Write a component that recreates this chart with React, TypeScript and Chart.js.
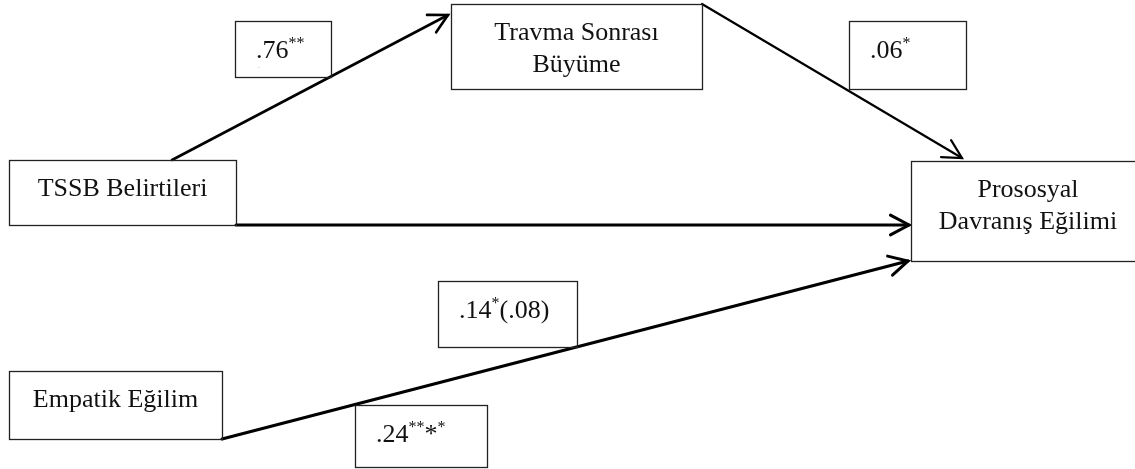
import React, { useEffect, useRef } from "react";
import { Chart, registerables } from "chart.js";

Chart.register(...registerables);

// ---------- Diagram data (in diagram units; 1 unit = 1 px of the 1135 x 469 frame) ----------
// Variables of the mediation model
const nodeLabels = ["TSSB Belirtileri", "Travma Sonrası|Büyüme", "Prososyal|Davranış Eğilimi", "Empatik Eğilim"];
const nodeLeft = [9, 451, 911, 9];
const nodeTop = [160, 4, 161, 371];
const nodeRight = [236, 702, 1145, 222];
const nodeBottom = [225, 89, 261, 439];

// Path coefficients (^{...} = superscript)
const coefLabels = [".76^{**}", ".06^{*}", ".14^{*}(.08)", ".24^{**}*^{*}"];
const coefLeft = [235, 849, 438, 355];
const coefTop = [21, 21, 281, 405];
const coefRight = [331, 966, 577, 487];
const coefBottom = [77, 89, 347, 467];

// Paths (arrows): start and end points
const pathFromX = [172, 702, 236, 222];
const pathFromY = [160, 4, 225, 439];
const pathToX = [448, 962, 909, 908];
const pathToY = [15, 158, 225, 261];

// Stray mark under ".76"
const strayText = ".";
const strayX = 258;
const strayY = 68;

// ---------- Styles ----------
const FRAME_W = 1135;
const FRAME_H = 469;
const pathWidths = [2.6, 2.2, 3, 3];
const FONT = "'Liberation Serif', 'Times New Roman', serif";

function parseSegments(s: string) {
  const segs: { t: string; sup: boolean }[] = [];
  const re = /\^\{([^}]*)\}|([^^]+)/g;
  let m: RegExpExecArray | null;
  while ((m = re.exec(s))) {
    if (m[1] !== undefined) segs.push({ t: m[1], sup: true });
    else segs.push({ t: m[2], sup: false });
  }
  return segs;
}

const diagramPlugin = {
  id: "diagram",
  afterDatasetsDraw(chart: any) {
    const ctx: CanvasRenderingContext2D = chart.ctx;
    const xs = chart.scales.x;
    const ys = chart.scales.y;
    const px = (v: number) => xs.getPixelForValue(v);
    const py = (v: number) => ys.getPixelForValue(v);

    ctx.save();
    // arrowheads
    const L = 21;
    const A = (28 * Math.PI) / 180;
    ctx.strokeStyle = "#000";
    ctx.lineCap = "round";
    ctx.lineJoin = "miter";
    chart.data.datasets.forEach((ds: any) => {
      const a = ds.data[0];
      const b = ds.data[1];
      const x1 = px(a.x), y1 = py(a.y), x2 = px(b.x), y2 = py(b.y);
      const ang = Math.atan2(y2 - y1, x2 - x1);
      ctx.lineWidth = ds.borderWidth;
      ctx.beginPath();
      ctx.moveTo(x2 - L * Math.cos(ang - A), y2 - L * Math.sin(ang - A));
      ctx.lineTo(x2, y2);
      ctx.lineTo(x2 - L * Math.cos(ang + A), y2 - L * Math.sin(ang + A));
      ctx.stroke();
    });

    // boxes
    ctx.strokeStyle = "#222";
    ctx.lineWidth = 1.3;
    const box = (l: number, t: number, r: number, b: number) => {
      const x0 = Math.round(px(l)) + 0.5;
      const y0 = Math.round(py(t)) + 0.5;
      const x1 = Math.round(px(r)) + 0.5;
      const y1 = Math.round(py(b)) + 0.5;
      ctx.strokeRect(x0, y0, x1 - x0, y1 - y0);
    };
    nodeLabels.forEach((_, i) => box(nodeLeft[i], nodeTop[i], nodeRight[i], nodeBottom[i]));
    coefLabels.forEach((_, i) => box(coefLeft[i], coefTop[i], coefRight[i], coefBottom[i]));

    // node labels
    ctx.fillStyle = "#111";
    ctx.textBaseline = "alphabetic";
    ctx.textAlign = "center";
    ctx.font = `26px ${FONT}`;
    nodeLabels.forEach((lab, i) => {
      const cx = (px(nodeLeft[i]) + px(Math.min(nodeRight[i], nodeRight[i]))) / 2;
      const lines = lab.split("|");
      lines.forEach((ln, k) => {
        ctx.fillText(ln, cx, py(nodeTop[i]) + 36 + k * 31.5);
      });
    });

    // coefficient labels
    ctx.textAlign = "left";
    coefLabels.forEach((lab, i) => {
      let x = px(coefLeft[i]) + 21;
      const base = py(coefTop[i]) + 36.5;
      parseSegments(lab).forEach((seg) => {
        if (seg.sup) {
          ctx.font = `16px ${FONT}`;
          ctx.fillText(seg.t, x, base - 10);
        } else {
          ctx.font = `26px ${FONT}`;
          ctx.fillText(seg.t, x, base);
        }
        x += ctx.measureText(seg.t).width;
      });
    });

    // stray mark
    ctx.fillStyle = "#999";
    ctx.font = `7px ${FONT}`;
    ctx.fillText(strayText, px(strayX), py(strayY));
    ctx.restore();
  },
};

export default function App() {
  const canvasRef = useRef<HTMLCanvasElement | null>(null);

  useEffect(() => {
    document.body.style.margin = "0";
    const canvas = canvasRef.current;
    if (!canvas) return;
    const datasets = pathFromX.map((_, i) => ({
      label: `path${i}`,
      data: [
        { x: pathFromX[i], y: pathFromY[i] },
        { x: pathToX[i], y: pathToY[i] },
      ],
      showLine: true,
      borderColor: "#000",
      backgroundColor: "#000",
      borderWidth: pathWidths[i],
      pointRadius: 0,
      pointHoverRadius: 0,
      borderCapStyle: "round" as const,
      clip: false as any,
    }));
    const chart = new Chart(canvas, {
      type: "scatter",
      data: { datasets },
      options: {
        animation: false,
        responsive: false,
        maintainAspectRatio: false,
        devicePixelRatio: 1,
        layout: { padding: 0 },
        events: [],
        scales: {
          x: { type: "linear", min: 0, max: FRAME_W, display: false },
          y: { type: "linear", min: 0, max: FRAME_H, reverse: true, display: false },
        },
        plugins: {
          legend: { display: false },
          tooltip: { enabled: false },
          title: { display: false },
        },
      },
      plugins: [diagramPlugin],
    });
    return () => chart.destroy();
  }, []);

  return (
    <div style={{ width: FRAME_W, height: FRAME_H, background: "#fff", overflow: "hidden" }}>
      <canvas ref={canvasRef} width={FRAME_W} height={FRAME_H} style={{ display: "block" }} />
    </div>
  );
}
